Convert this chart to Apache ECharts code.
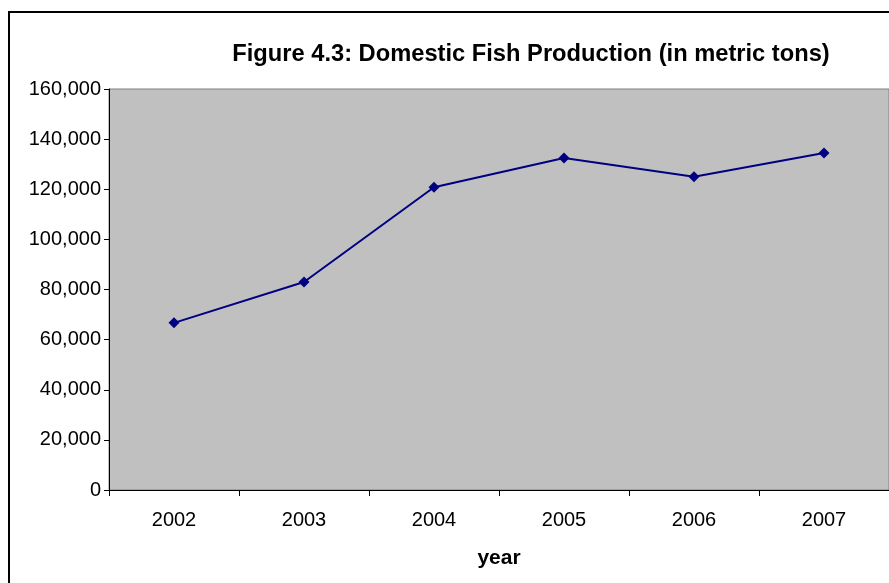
<!DOCTYPE html>
<html>
<head>
<meta charset="utf-8">
<script src="https://cdn.jsdelivr.net/npm/echarts@6/dist/echarts.min.js"></script>
<style>
  html, body { margin: 0; padding: 0; background: #fff; }
  #chart { width: 889px; height: 583px; }
</style>
</head>
<body>
<div id="chart"></div>
<script>
// Domestic fish production by year, metric tons
const years = ['2002', '2003', '2004', '2005', '2006', '2007'];
const production = [66700, 83000, 120800, 132500, 125000, 134500];
const yTicks = [0, 20000, 40000, 60000, 80000, 100000, 120000, 140000, 160000];

const chart = echarts.init(document.getElementById('chart'), null, { renderer: 'canvas' });
const font = 'Liberation Sans, Arial, sans-serif';

chart.setOption({
  animation: false,
  title: {
    text: 'Figure 4.3: Domestic Fish Production (in metric tons)',
    left: 526, top: 37, textAlign: 'center',
    textStyle: { fontFamily: font, fontSize: 23.7, fontWeight: 'bold', color: '#000' }
  },
  graphic: [{
    type: 'rect',
    shape: { x: 9, y: 12, width: 900, height: 600 },
    style: { fill: 'none', stroke: '#000', lineWidth: 2 },
    z: -10
  }],
  grid: {
    left: 109, top: 89, right: -2, bottom: 93,
    show: true, backgroundColor: '#c0c0c0', borderColor: '#808080', borderWidth: 1
  },
  xAxis: {
    type: 'category',
    data: years,
    boundaryGap: true,
    name: 'year',
    nameLocation: 'middle',
    nameGap: 58,
    nameTextStyle: { fontFamily: font, fontSize: 21, fontWeight: 'bold', color: '#000' },
    axisLine: { lineStyle: { color: '#000', width: 1 } },
    axisTick: { show: true, alignWithLabel: false, length: 6, lineStyle: { color: '#000' } },
    axisLabel: { fontFamily: font, fontSize: 20, color: '#000', margin: 20 },
    splitLine: { show: false }
  },
  yAxis: {
    type: 'value',
    min: yTicks[0], max: yTicks[yTicks.length - 1], interval: yTicks[1] - yTicks[0],
    axisLine: { show: true, lineStyle: { color: '#000', width: 1 } },
    axisTick: { show: true, length: 5, lineStyle: { color: '#000' } },
    axisLabel: {
      fontFamily: font, fontSize: 20, color: '#000', margin: 8,
      formatter: v => v.toLocaleString('en-US')
    },
    splitLine: { show: false }
  },
  series: [{
    type: 'line',
    data: production,
    symbol: 'diamond',
    symbolSize: 11,
    lineStyle: { color: '#000080', width: 2 },
    itemStyle: { color: '#000080' }
  }]
});
</script>
</body>
</html>
